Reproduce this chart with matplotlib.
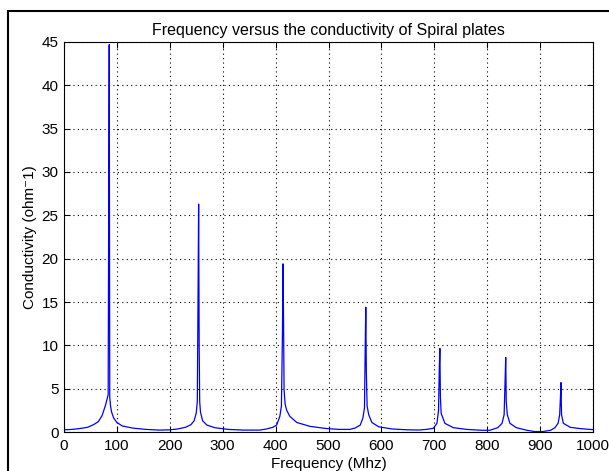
import numpy as np
import matplotlib
matplotlib.use('Agg')
import matplotlib.pyplot as plt
from matplotlib.patches import Rectangle

# frequency (MHz) and conductivity, one block per resonance
freq = [0, 15, 30, 45, 56, 65, 72, 78, 81, 83.5, 84.5, 85.5, 86.5, 88, 90, 94, 100, 110, 130, 155, 180,
        200, 215, 230, 240, 246, 250, 252, 253.5, 254.5, 255.5, 256.5, 258, 262, 270, 285, 310, 340, 370,
        383, 395, 402, 408, 411, 413, 414, 415, 416, 418, 421, 427, 440, 465, 496, 520,
        540, 550, 560, 565, 568, 569.5, 570.5, 571.5, 573, 576, 582, 595, 620, 650, 671, 685,
        698, 705, 708, 709.5, 710.5, 711.5, 713, 720, 736, 761, 790,
        805, 820, 828, 832, 834, 835, 836, 838, 843, 855, 875, 890, 905,
        920, 928, 934, 937, 938.5, 939.5, 940.5, 944, 957, 975, 994, 1000]
cond = [0.25, 0.3, 0.4, 0.55, 0.85, 1.2, 1.9, 3.0, 3.7, 4.3, 25.5, 44.7, 4.0, 3.0, 2.3, 1.6, 1.1, 0.7, 0.45, 0.3, 0.22,
        0.25, 0.35, 0.55, 0.85, 1.3, 2.2, 3.5, 16.6, 26.3, 10.0, 3.5, 2.3, 1.3, 0.8, 0.5, 0.3, 0.22, 0.22,
        0.35, 0.55, 0.8, 1.8, 3.0, 11.6, 19.4, 13.0, 4.9, 3.2, 2.5, 1.8, 1.1, 0.65, 0.4, 0.3,
        0.3, 0.45, 0.8, 1.6, 2.8, 10.2, 14.4, 7.0, 3.0, 2.0, 1.1, 0.6, 0.35, 0.25, 0.23, 0.3,
        0.42, 1.0, 2.5, 7.5, 9.65, 4.1, 2.15, 1.0, 0.5, 0.3, 0.2,
        0.2, 0.5, 1.0, 2.0, 6.3, 8.6, 3.5, 2.0, 1.0, 0.5, 0.2, 0.05, 0.05,
        0.2, 0.5, 1.0, 2.0, 4.07, 5.7, 2.0, 1.0, 0.54, 0.4, 0.3, 0.28]

xticks = list(range(0, 1001, 100))
yticks = list(range(0, 46, 5))

plt.rcParams.update({'font.size': 11, 'font.family': ['Liberation Sans', 'DejaVu Sans']})

fig = plt.figure(figsize=(6.09, 4.71), dpi=100)
ax = fig.add_axes([64/609, 1-432/471, 529/609, 390/471])

ax.plot(freq, cond, color='#0000ff', lw=0.9)

ax.set_xlim(0, 1000)
ax.set_ylim(0, 45)
ax.set_xticks(xticks)
ax.set_yticks(yticks)
ax.grid(True, color='black', linestyle=(0, (1, 3)), linewidth=0.8)
ax.tick_params(direction='in', length=4, width=0.75, top=True, right=True,
               colors='black', labelsize=11)
ax.tick_params(axis='x', pad=5)
ax.tick_params(axis='y', pad=4)
for sp in ax.spines.values():
    sp.set_linewidth(0.8)

ax.set_title('Frequency versus the conductivity of Spiral plates', fontsize=11.5, pad=5)
ax.set_xlabel('Frequency (Mhz)', labelpad=3)
ax.set_ylabel('Conductivity (ohm\u207b1)', labelpad=3)

# figure frame
fig.patches.append(Rectangle((8/609, -0.2), 1.5, 0.2 + 1 - 10.7/471, transform=fig.transFigure,
                             fill=False, edgecolor='black', linewidth=1.5, zorder=10))

fig.savefig('out.png', dpi=100)
